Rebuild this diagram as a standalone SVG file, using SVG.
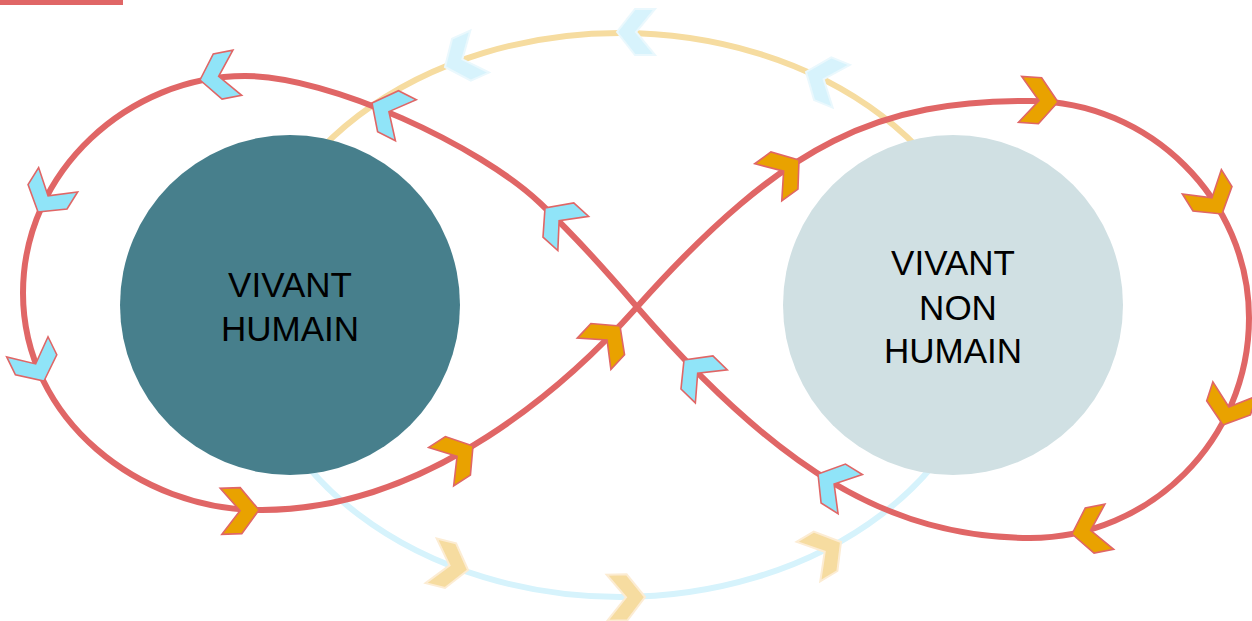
<svg xmlns="http://www.w3.org/2000/svg" width="1252" height="621" viewBox="0 0 1252 621">
<defs>
<style>
.red{fill:none;stroke:#e06666;stroke-width:6}
.arcY{fill:none;stroke:#f6dca0;stroke-width:6}
.arcB{fill:none;stroke:#d6f3fc;stroke-width:6}
.chO{fill:#e9a200;stroke:#e06666;stroke-width:1.6;stroke-linejoin:miter}
.chB{fill:#90e4f8;stroke:#e06666;stroke-width:1.6;stroke-linejoin:miter}
.chLY{fill:#f6dca0;stroke:#fcecd3;stroke-width:2}
.chLB{fill:#d7f3fc;stroke:#eaf8fd;stroke-width:2}
.lbl{font-family:"Liberation Sans",Arial,sans-serif;font-size:35px;fill:#000;text-anchor:middle}
</style>
<polygon id="chev" points="0,0 -18,-23 -38,-23 -19,0 -38,23 -18,23"/>
</defs>
<rect x="0" y="0" width="123" height="5" fill="#e06666"/>
<g id="connectors-back">
<path class="arcY" d="M250,315 A370 282 0 0 1 990,315"/>
<path class="arcB" d="M250,315 A370 282 0 0 0 990,315"/>
<use href="#chev" class="chLB" transform="translate(445,67) rotate(156)"/>
<use href="#chev" class="chLB" transform="translate(617,32) rotate(180)"/>
<use href="#chev" class="chLB" transform="translate(806,72) rotate(-158)"/>
<use href="#chev" class="chLY" transform="translate(468,570) rotate(14)"/>
<use href="#chev" class="chLY" transform="translate(645,597) rotate(-1)"/>
<use href="#chev" class="chLY" transform="translate(841,542) rotate(-31)"/>
</g>
<g id="node-vivant-humain">
<circle cx="290" cy="305" r="170" fill="#477f8c"/>
<text class="lbl" x="290" y="297">VIVANT</text>
<text class="lbl" x="290" y="341">HUMAIN</text>
</g>
<g id="node-vivant-non-humain">
<circle cx="953" cy="305" r="170" fill="#d0e0e3"/>
<text class="lbl" x="953" y="275">VIVANT</text>
<text class="lbl" x="958" y="320">NON</text>
<text class="lbl" x="953" y="363">HUMAIN</text>
</g>
<g id="connectors">
<path class="red" d="M260,510 C430,511 571,381 637,307 C787,139 880,101 1030,101 C1150,101 1249,200 1249,318 C1249,440 1150,538 1030,538 C890,538 777,469 637,307 C602,266 575,236 540,203 C480,146 330,76 245,76 C130,76 23,170 23,293 C23,420 140,510 260,510 Z"/>
<use href="#chev" class="chO" transform="translate(259,510) rotate(-2)"/>
<use href="#chev" class="chO" transform="translate(473,446) rotate(-33)"/>
<use href="#chev" class="chO" transform="translate(620,326) rotate(-47)"/>
<use href="#chev" class="chO" transform="translate(799,160) rotate(-36)"/>
<use href="#chev" class="chO" transform="translate(1058,102) rotate(4)"/>
<use href="#chev" class="chO" transform="translate(1222,214) rotate(58)"/>
<use href="#chev" class="chO" transform="translate(1223,425) rotate(108)"/>
<use href="#chev" class="chO" transform="translate(1072,534) rotate(169)"/>
<use href="#chev" class="chB" transform="translate(818,474) rotate(-148)"/>
<use href="#chev" class="chB" transform="translate(684,360) rotate(-136)"/>
<use href="#chev" class="chB" transform="translate(545,208) rotate(-138)"/>
<use href="#chev" class="chB" transform="translate(372,103) rotate(-153)"/>
<use href="#chev" class="chB" transform="translate(200,80) rotate(169)"/>
<use href="#chev" class="chB" transform="translate(38,212) rotate(122)"/>
<use href="#chev" class="chB" transform="translate(44,381) rotate(64)"/>
</g>
</svg>
